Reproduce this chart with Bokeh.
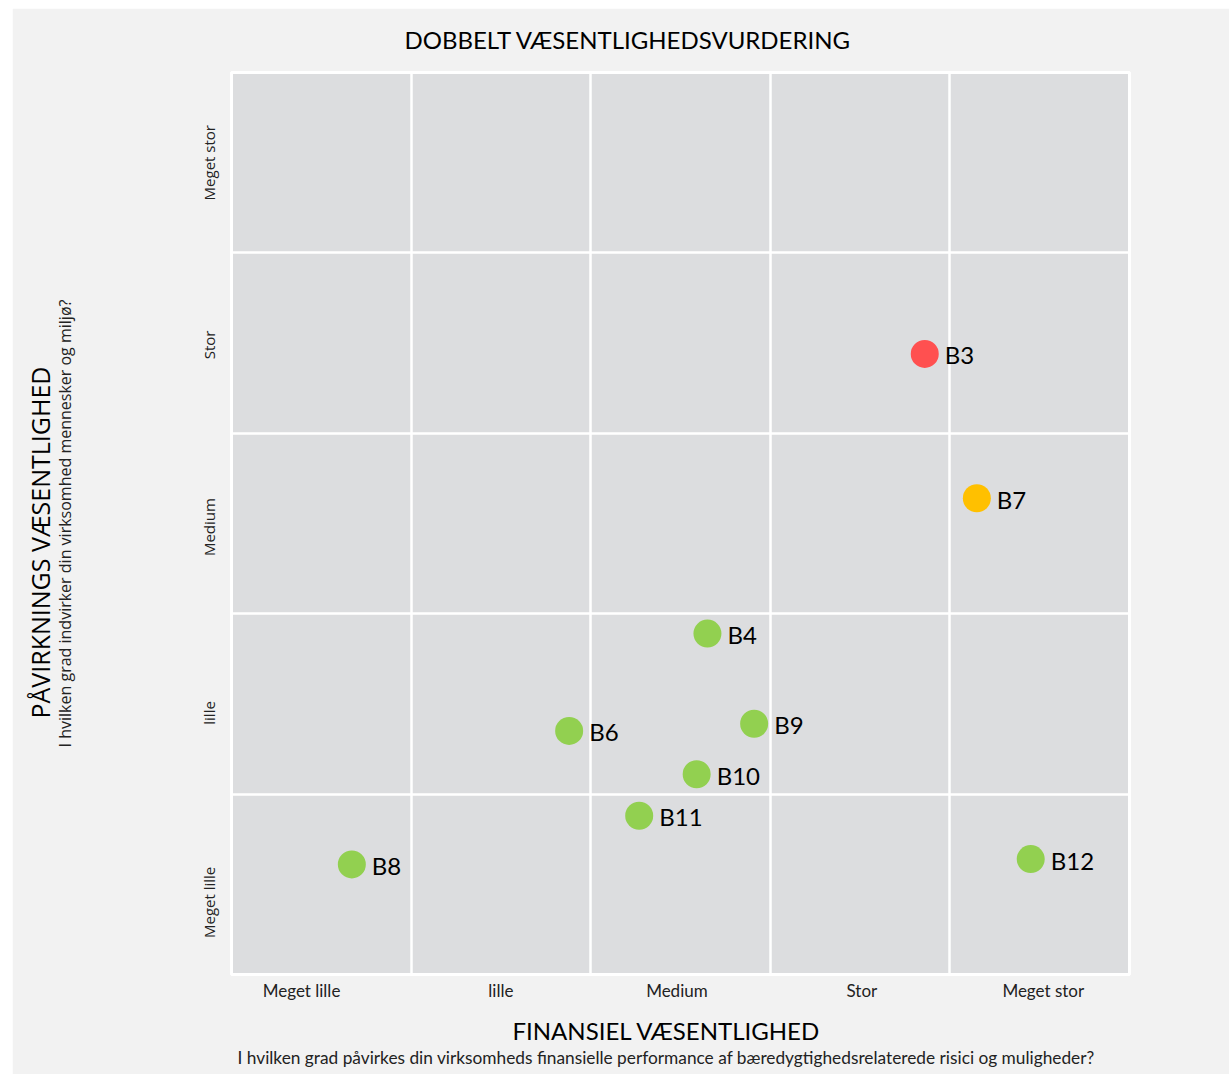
from bokeh.plotting import figure
from bokeh.models import FixedTicker, ColumnDataSource, Range1d, Spacer, Title
from bokeh.layouts import row, column
from bokeh.core.properties import value
from bokeh.embed import file_html
from bokeh.resources import INLINE

# ---- data ----
labels = ["B3", "B4", "B6", "B7", "B8", "B9", "B10", "B11", "B12"]
finansiel = [3.86, 2.65, 1.88, 4.15, 0.67, 2.91, 2.59, 2.27, 4.45]
paavirkning = [3.44, 1.89, 1.35, 2.64, 0.61, 1.39, 1.11, 0.88, 0.64]
niveau = ["høj", "lav", "lav", "middel", "lav", "lav", "lav", "lav", "lav"]
level_names = ["Meget lille", "lille", "Medium", "Stor", "Meget stor"]
x_tick_pos = [0.39, 1.5, 2.48, 3.51, 4.52]
y_tick_pos = [0.4, 1.45, 2.48, 3.49, 4.5]

color_map = {"høj": "#ff5050", "middel": "#ffc000", "lav": "#92d050"}
colors = [color_map[n] for n in niveau]

COND = "Lato"

p = figure(frame_width=898, frame_height=902, output_backend="svg", toolbar_location=None,
           x_range=Range1d(0, 5), y_range=Range1d(0, 5),
           min_border_left=219, min_border_right=100, min_border_top=64, min_border_bottom=100)
p.background_fill_color = "#dcdddf"
p.border_fill_color = "#f2f2f2"
p.outline_line_color = "white"
p.outline_line_width = 3

p.xgrid.ticker = FixedTicker(ticks=[1, 2, 3, 4])
p.ygrid.ticker = FixedTicker(ticks=[1, 2, 3, 4])
for g in (p.xgrid, p.ygrid):
    g.grid_line_color = "white"
    g.grid_line_width = 2.5
    g.grid_line_alpha = 1

p.xaxis.ticker = FixedTicker(ticks=x_tick_pos)
p.xaxis.major_label_overrides = {t: n for t, n in zip(x_tick_pos, level_names)}
p.yaxis.ticker = FixedTicker(ticks=y_tick_pos)
p.yaxis.major_label_overrides = {t: n for t, n in zip(y_tick_pos, level_names)}
for ax in (p.xaxis, p.yaxis):
    ax.axis_line_color = None
    ax.major_tick_line_color = None
    ax.minor_tick_line_color = None
    ax.major_tick_out = 0
    ax.major_tick_in = 0
    ax.minor_tick_out = 0
    ax.major_label_text_color = "#222222"
p.xaxis.major_label_text_font = COND
p.xaxis.major_label_text_font_size = "17px"
p.xaxis.major_label_standoff = 5
p.yaxis.major_label_text_font = "Open Sans"
p.yaxis.major_label_text_font_size = "15px"
p.yaxis.major_label_orientation = "vertical"
p.yaxis.major_label_standoff = 12

# y subtitle as the y axis label
p.yaxis.axis_label = "I hvilken grad indvirker din virksomhed mennesker og miljø?"
p.yaxis.axis_label_text_font = "Open Sans"
p.yaxis.axis_label_text_font_size = "16px"
p.yaxis.axis_label_text_font_style = "normal"
p.yaxis.axis_label_text_color = "#222222"
p.yaxis.axis_label_standoff = 121

src = ColumnDataSource(dict(x=finansiel, y=paavirkning, label=labels, color=colors))
p.scatter("x", "y", source=src, size=28, fill_color="color", line_color=None)
p.text("x", "y", text="label", source=src, x_offset=20, y_offset=1,
       text_font=value(COND), text_font_size="24px", text_baseline="middle",
       text_color="black")

# titles
p.title.text = "DOBBELT VÆSENTLIGHEDSVURDERING"
p.title.align = "left"
p.title.offset = 173
p.title.vertical_align = "top"
p.title.text_font = COND
p.title.text_font_size = "24px"
p.title.text_font_style = "normal"
p.title.text_color = "black"
p.title.standoff = 33

xt = Title(text="FINANSIEL VÆSENTLIGHED", align="left", offset=281,
           text_font=COND, text_font_size="24px", text_font_style="normal",
           text_color="black", standoff=21)
xs = Title(text="I hvilken grad påvirkes din virksomheds finansielle performance af bæredygtighedsrelaterede risici og muligheder?",
           align="left", offset=6, text_font=COND, text_font_size="17.3px",
           text_font_style="normal", text_color="#222222", standoff=-22)
p.add_layout(xt, "below")
p.add_layout(xs, "below")

yt = Title(text="PÅVIRKNINGS VÆSENTLIGHED", align="left", offset=256,
           text_font="Open Sans", text_font_size="25px", text_font_style="normal",
           text_color="black", standoff=-12)
p.add_layout(yt, "left")

layout = column(Spacer(width=10, height=8), row(Spacer(width=12, height=10), p))
open("out.html", "w").write(file_html(layout, INLINE))
